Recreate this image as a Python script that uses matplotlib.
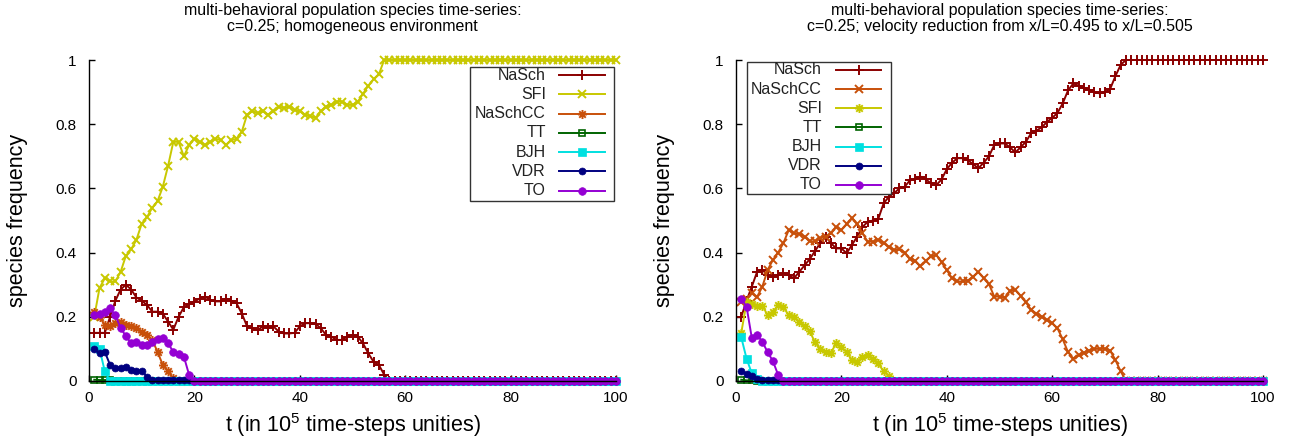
import matplotlib
matplotlib.use("Agg")
import matplotlib.pyplot as plt
from matplotlib.path import Path
from matplotlib.patches import Rectangle

plt.rcParams['font.family'] = ['Liberation Sans', 'DejaVu Sans']
plt.rcParams['mathtext.default'] = 'regular'

# ---------------- data (time in units of 1e5 steps) ----------------
t = list(range(1, 101))

left_title = ["multi-behavioral population species time-series:",
              "c=0.25; homogeneous environment"]
right_title = ["multi-behavioral population species time-series:",
               "c=0.25; velocity reduction from x/L=0.495 to x/L=0.505"]

x_ticks = [0, 20, 40, 60, 80, 100]
x_tick_labels = ["0", "20", "40", "60", "80", "100"]
y_ticks = [0, 0.2, 0.4, 0.6, 0.8, 1.0]
y_tick_labels = ["0", "0.2", "0.4", "0.6", "0.8", "1"]

# ---- left panel: homogeneous environment ----
L_NaSch = [0.15, 0.15, 0.15, 0.20, 0.25, 0.285, 0.30, 0.285, 0.26, 0.25,
           0.237, 0.216, 0.216, 0.21, 0.185, 0.16, 0.20, 0.23, 0.24, 0.247,
           0.257, 0.263, 0.252, 0.248, 0.248, 0.257, 0.25, 0.242, 0.21, 0.17,
           0.164, 0.159, 0.17, 0.165, 0.17, 0.154, 0.148, 0.148, 0.15, 0.17,
           0.18, 0.18, 0.178, 0.164, 0.143, 0.138, 0.128, 0.128, 0.138, 0.143,
           0.138, 0.117, 0.086, 0.06, 0.05, 0.02, 0, 0, 0, 0,
           0, 0, 0, 0, 0, 0, 0, 0, 0, 0,
           0, 0, 0, 0, 0, 0, 0, 0, 0, 0,
           0, 0, 0, 0, 0, 0, 0, 0, 0, 0,
           0, 0, 0, 0, 0, 0, 0, 0, 0, 0]
L_SFI = [0.20, 0.29, 0.32, 0.31, 0.31, 0.34, 0.39, 0.41, 0.44, 0.49,
         0.51, 0.54, 0.56, 0.605, 0.67, 0.745, 0.745, 0.70, 0.735, 0.755,
         0.745, 0.735, 0.745, 0.755, 0.75, 0.735, 0.75, 0.755, 0.777, 0.83,
         0.84, 0.835, 0.84, 0.83, 0.84, 0.855, 0.85, 0.855, 0.845, 0.84,
         0.83, 0.825, 0.82, 0.84, 0.855, 0.86, 0.87, 0.87, 0.86, 0.86,
         0.87, 0.895, 0.92, 0.94, 0.955, 1, 1, 1, 1, 1,
         1, 1, 1, 1, 1, 1, 1, 1, 1, 1,
         1, 1, 1, 1, 1, 1, 1, 1, 1, 1,
         1, 1, 1, 1, 1, 1, 1, 1, 1, 1,
         1, 1, 1, 1, 1, 1, 1, 1, 1, 1]
L_NaSchCC = [0.215, 0.20, 0.175, 0.17, 0.18, 0.185, 0.175, 0.17, 0.164, 0.154,
             0.143, 0.128, 0.091, 0.05, 0.03, 0.008, 0, 0, 0, 0,
             0, 0, 0, 0, 0, 0, 0, 0, 0, 0,
             0, 0, 0, 0, 0, 0, 0, 0, 0, 0,
             0, 0, 0, 0, 0, 0, 0, 0, 0, 0,
             0, 0, 0, 0, 0, 0, 0, 0, 0, 0,
             0, 0, 0, 0, 0, 0, 0, 0, 0, 0,
             0, 0, 0, 0, 0, 0, 0, 0, 0, 0,
             0, 0, 0, 0, 0, 0, 0, 0, 0, 0,
             0, 0, 0, 0, 0, 0, 0, 0, 0, 0]
L_TT = [0.004, 0.003, 0.003, 0.003, 0, 0, 0, 0, 0, 0,
        0, 0, 0, 0, 0, 0, 0, 0, 0, 0,
        0, 0, 0, 0, 0, 0, 0, 0, 0, 0,
        0, 0, 0, 0, 0, 0, 0, 0, 0, 0,
        0, 0, 0, 0, 0, 0, 0, 0, 0, 0,
        0, 0, 0, 0, 0, 0, 0, 0, 0, 0,
        0, 0, 0, 0, 0, 0, 0, 0, 0, 0,
        0, 0, 0, 0, 0, 0, 0, 0, 0, 0,
        0, 0, 0, 0, 0, 0, 0, 0, 0, 0,
        0, 0, 0, 0, 0, 0, 0, 0, 0, 0]
L_BJH = [0.11, 0.10, 0.03, 0, 0, 0, 0, 0, 0, 0,
         0, 0, 0, 0, 0, 0, 0, 0, 0, 0,
         0, 0, 0, 0, 0, 0, 0, 0, 0, 0,
         0, 0, 0, 0, 0, 0, 0, 0, 0, 0,
         0, 0, 0, 0, 0, 0, 0, 0, 0, 0,
         0, 0, 0, 0, 0, 0, 0, 0, 0, 0,
         0, 0, 0, 0, 0, 0, 0, 0, 0, 0,
         0, 0, 0, 0, 0, 0, 0, 0, 0, 0,
         0, 0, 0, 0, 0, 0, 0, 0, 0, 0,
         0, 0, 0, 0, 0, 0, 0, 0, 0, 0]
L_VDR = [0.10, 0.086, 0.091, 0.05, 0.04, 0.042, 0.045, 0.034, 0.03, 0.032,
         0.013, 0.003, 0.002, 0.002, 0.002, 0.002, 0.002, 0.002, 0.002, 0,
         0, 0, 0, 0, 0, 0, 0, 0, 0, 0,
         0, 0, 0, 0, 0, 0, 0, 0, 0, 0,
         0, 0, 0, 0, 0, 0, 0, 0, 0, 0,
         0, 0, 0, 0, 0, 0, 0, 0, 0, 0,
         0, 0, 0, 0, 0, 0, 0, 0, 0, 0,
         0, 0, 0, 0, 0, 0, 0, 0, 0, 0,
         0, 0, 0, 0, 0, 0, 0, 0, 0, 0,
         0, 0, 0, 0, 0, 0, 0, 0, 0, 0]
L_TO = [0.205, 0.21, 0.215, 0.226, 0.205, 0.165, 0.14, 0.117, 0.122, 0.112,
        0.112, 0.122, 0.13, 0.133, 0.117, 0.091, 0.085, 0.076, 0.019, 0,
        0, 0, 0, 0, 0, 0, 0, 0, 0, 0,
        0, 0, 0, 0, 0, 0, 0, 0, 0, 0,
        0, 0, 0, 0, 0, 0, 0, 0, 0, 0,
        0, 0, 0, 0, 0, 0, 0, 0, 0, 0,
        0, 0, 0, 0, 0, 0, 0, 0, 0, 0,
        0, 0, 0, 0, 0, 0, 0, 0, 0, 0,
        0, 0, 0, 0, 0, 0, 0, 0, 0, 0,
        0, 0, 0, 0, 0, 0, 0, 0, 0, 0]

# ---- right panel: velocity reduction ----
R_NaSch = [0.20, 0.25, 0.294, 0.34, 0.346, 0.33, 0.325, 0.33, 0.335, 0.33,
           0.32, 0.34, 0.36, 0.38, 0.405, 0.43, 0.45, 0.43, 0.413, 0.413,
           0.398, 0.424, 0.45, 0.48, 0.496, 0.50, 0.505, 0.553, 0.574, 0.585,
           0.60, 0.605, 0.625, 0.628, 0.637, 0.628, 0.616, 0.61, 0.628, 0.66,
           0.68, 0.694, 0.694, 0.688, 0.675, 0.663, 0.68, 0.70, 0.735, 0.74,
           0.74, 0.728, 0.712, 0.728, 0.745, 0.772, 0.78, 0.79, 0.807, 0.82,
           0.835, 0.865, 0.905, 0.927, 0.92, 0.912, 0.907, 0.90, 0.896, 0.90,
           0.91, 0.95, 0.985, 1, 1, 1, 1, 1, 1, 1,
           1, 1, 1, 1, 1, 1, 1, 1, 1, 1,
           1, 1, 1, 1, 1, 1, 1, 1, 1, 1]
R_NaSchCC = [0.245, 0.257, 0.273, 0.262, 0.294, 0.346, 0.377, 0.40, 0.43, 0.47,
             0.46, 0.458, 0.45, 0.435, 0.435, 0.445, 0.45, 0.46, 0.48, 0.47,
             0.49, 0.507, 0.49, 0.46, 0.434, 0.434, 0.44, 0.43, 0.418, 0.408,
             0.41, 0.40, 0.38, 0.375, 0.357, 0.375, 0.388, 0.393, 0.37, 0.345,
             0.32, 0.31, 0.31, 0.313, 0.325, 0.34, 0.32, 0.302, 0.263, 0.263,
             0.26, 0.28, 0.285, 0.265, 0.245, 0.222, 0.21, 0.20, 0.19, 0.18,
             0.164, 0.13, 0.09, 0.07, 0.08, 0.088, 0.095, 0.10, 0.10, 0.10,
             0.095, 0.065, 0.03, 0, 0, 0, 0, 0, 0, 0,
             0, 0, 0, 0, 0, 0, 0, 0, 0, 0,
             0, 0, 0, 0, 0, 0, 0, 0, 0, 0]
R_SFI = [0.15, 0.245, 0.24, 0.235, 0.235, 0.205, 0.215, 0.237, 0.23, 0.205,
         0.20, 0.185, 0.17, 0.155, 0.12, 0.10, 0.09, 0.088, 0.117, 0.105,
         0.09, 0.065, 0.06, 0.076, 0.08, 0.068, 0.055, 0.03, 0.015, 0,
         0, 0, 0, 0, 0, 0, 0, 0, 0, 0,
         0, 0, 0, 0, 0, 0, 0, 0, 0, 0,
         0, 0, 0, 0, 0, 0, 0, 0, 0, 0,
         0, 0, 0, 0, 0, 0, 0, 0, 0, 0,
         0, 0, 0, 0, 0, 0, 0, 0, 0, 0,
         0, 0, 0, 0, 0, 0, 0, 0, 0, 0,
         0, 0, 0, 0, 0, 0, 0, 0, 0, 0]
R_TT = [0.004, 0.002, 0.002, 0, 0, 0, 0, 0, 0, 0,
        0, 0, 0, 0, 0, 0, 0, 0, 0, 0,
        0, 0, 0, 0, 0, 0, 0, 0, 0, 0,
        0, 0, 0, 0, 0, 0, 0, 0, 0, 0,
        0, 0, 0, 0, 0, 0, 0, 0, 0, 0,
        0, 0, 0, 0, 0, 0, 0, 0, 0, 0,
        0, 0, 0, 0, 0, 0, 0, 0, 0, 0,
        0, 0, 0, 0, 0, 0, 0, 0, 0, 0,
        0, 0, 0, 0, 0, 0, 0, 0, 0, 0,
        0, 0, 0, 0, 0, 0, 0, 0, 0, 0]
R_BJH = [0.136, 0.07, 0.024, 0.005, 0, 0, 0, 0, 0, 0,
         0, 0, 0, 0, 0, 0, 0, 0, 0, 0,
         0, 0, 0, 0, 0, 0, 0, 0, 0, 0,
         0, 0, 0, 0, 0, 0, 0, 0, 0, 0,
         0, 0, 0, 0, 0, 0, 0, 0, 0, 0,
         0, 0, 0, 0, 0, 0, 0, 0, 0, 0,
         0, 0, 0, 0, 0, 0, 0, 0, 0, 0,
         0, 0, 0, 0, 0, 0, 0, 0, 0, 0,
         0, 0, 0, 0, 0, 0, 0, 0, 0, 0,
         0, 0, 0, 0, 0, 0, 0, 0, 0, 0]
R_VDR = [0.03, 0.022, 0.015, 0.007, 0.004, 0.003, 0.003, 0.003, 0, 0,
         0, 0, 0, 0, 0, 0, 0, 0, 0, 0,
         0, 0, 0, 0, 0, 0, 0, 0, 0, 0,
         0, 0, 0, 0, 0, 0, 0, 0, 0, 0,
         0, 0, 0, 0, 0, 0, 0, 0, 0, 0,
         0, 0, 0, 0, 0, 0, 0, 0, 0, 0,
         0, 0, 0, 0, 0, 0, 0, 0, 0, 0,
         0, 0, 0, 0, 0, 0, 0, 0, 0, 0,
         0, 0, 0, 0, 0, 0, 0, 0, 0, 0,
         0, 0, 0, 0, 0, 0, 0, 0, 0, 0]
R_TO = [0.256, 0.232, 0.134, 0.144, 0.122, 0.09, 0.062, 0.019, 0, 0,
        0, 0, 0, 0, 0, 0, 0, 0, 0, 0,
        0, 0, 0, 0, 0, 0, 0, 0, 0, 0,
        0, 0, 0, 0, 0, 0, 0, 0, 0, 0,
        0, 0, 0, 0, 0, 0, 0, 0, 0, 0,
        0, 0, 0, 0, 0, 0, 0, 0, 0, 0,
        0, 0, 0, 0, 0, 0, 0, 0, 0, 0,
        0, 0, 0, 0, 0, 0, 0, 0, 0, 0,
        0, 0, 0, 0, 0, 0, 0, 0, 0, 0,
        0, 0, 0, 0, 0, 0, 0, 0, 0, 0]

left_series = [("NaSch", L_NaSch), ("SFI", L_SFI), ("NaSchCC", L_NaSchCC),
               ("TT", L_TT), ("BJH", L_BJH), ("VDR", L_VDR), ("TO", L_TO)]
right_series = [("NaSch", R_NaSch), ("NaSchCC", R_NaSchCC), ("SFI", R_SFI),
                ("TT", R_TT), ("BJH", R_BJH), ("VDR", R_VDR), ("TO", R_TO)]

# ---------------- styles ----------------
colors = {"NaSch": "#8b0000", "SFI": "#c8c800", "NaSchCC": "#c8500a",
          "TT": "#006400", "BJH": "#00e0e0", "VDR": "#000080", "TO": "#9400d3"}

star = Path([(-1, 0), (1, 0), (0, -1), (0, 1), (-0.72, -0.72), (0.72, 0.72),
             (-0.72, 0.72), (0.72, -0.72)],
            [Path.MOVETO, Path.LINETO] * 4)

# gnuplot point types by plot order: +, x, *, open sq, filled sq, filled circ, filled circ
point_styles = [
    dict(marker="+", ms=7.5, mew=1.4),
    dict(marker="x", ms=6.0, mew=1.4),
    dict(marker=star, ms=6.5, mew=1.4),
    dict(marker="s", ms=5.0, mew=1.2, mfc="none"),
    dict(marker="s", ms=5.5, mew=0.5),
    dict(marker="o", ms=5.0, mew=0.5),
    dict(marker="o", ms=5.5, mew=0.5),
]

W, H = 1293, 443
fig = plt.figure(figsize=(W / 100, H / 100), dpi=100)

def axes_rect(x0, x1, ybot, ytop):
    return [x0 / W, (H - ybot) / H, (x1 - x0) / W, (ybot - ytop) / H]

axL = fig.add_axes(axes_rect(89, 616, 381, 60))
axR = fig.add_axes(axes_rect(736, 1263, 381, 60))

def draw_panel(ax, series, title, legend_box, text_x, line_x0, line_x1, y0, dy):
    for i, (name, vals) in enumerate(series):
        ax.plot(t, vals, color=colors[name], lw=1.4, clip_on=False,
                mec=colors[name], mfc=point_styles[i].get("mfc", colors[name]),
                marker=point_styles[i]["marker"], ms=point_styles[i]["ms"],
                mew=point_styles[i]["mew"], zorder=2)
    ax.set_xlim(0, 100)
    ax.set_ylim(0, 1)
    ax.set_xticks(x_ticks)
    ax.set_xticklabels(x_tick_labels)
    ax.set_yticks(y_ticks)
    ax.set_yticklabels(y_tick_labels)
    ax.spines["top"].set_visible(False)
    ax.spines["right"].set_visible(False)
    for s in ("left", "bottom"):
        ax.spines[s].set_linewidth(1.0)
        ax.spines[s].set_zorder(3)
    ax.tick_params(direction="in", length=4, width=1, labelsize=11)
    ax.tick_params(axis="y", pad=9)
    ax.tick_params(axis="x", pad=7)
    ax.set_ylabel("species frequency", fontsize=15.5)
    ax.set_xlabel("t (in 10$^{5}$ time-steps unities)", fontsize=15.5)
    ax.yaxis.set_label_coords(-0.135, 0.5)
    ax.xaxis.set_label_coords(0.5, -0.137)
    ax.xaxis.label.set_va("center")
    ax.yaxis.label.set_va("center")
    cx = ax.get_position().x0 + ax.get_position().width / 2
    fig.text(cx, 1 - 10 / H, title[0], ha="center", va="center", fontsize=11.5)
    fig.text(cx, 1 - 27 / H, title[1], ha="center", va="center", fontsize=11.5)
    # key box (gnuplot-style, right-aligned labels)
    bx0, by0, bx1, by1 = legend_box
    ax.add_patch(Rectangle((bx0, by0), bx1 - bx0, by1 - by0, transform=ax.transAxes,
                           facecolor="white", edgecolor="#333333", lw=1.0,
                           zorder=5, clip_on=False))
    for i, (name, vals) in enumerate(series):
        y = y0 - i * dy
        ax.text(text_x, y, name, ha="right", va="center", transform=ax.transAxes,
                fontsize=11.5, zorder=6, color="#222222")
        ax.plot([line_x0, line_x1], [y, y], color=colors[name], lw=1.4,
                transform=ax.transAxes, clip_on=False, zorder=6)
        ax.plot([(line_x0 + line_x1) / 2], [y], transform=ax.transAxes,
                clip_on=False, zorder=7, ls="none", color=colors[name],
                mec=colors[name], mfc=point_styles[i].get("mfc", colors[name]),
                marker=point_styles[i]["marker"], ms=point_styles[i]["ms"],
                mew=point_styles[i]["mew"])

draw_panel(axL, left_series, left_title,
           (0.723, 0.561, 0.996, 0.978), 0.867, 0.892, 0.979, 0.953, 0.060)
draw_panel(axR, right_series, right_title,
           (0.020, 0.582, 0.294, 0.995), 0.163, 0.190, 0.275, 0.969, 0.0597)

fig.savefig("out.png", dpi=100)
